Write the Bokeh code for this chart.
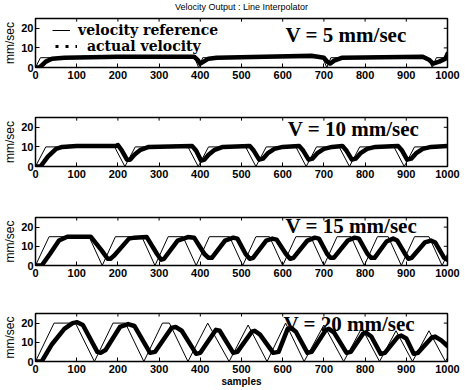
from bokeh.plotting import figure
from bokeh.models import Range1d, FixedTicker, Label, Legend, LegendItem
from bokeh.layouts import column
from bokeh.embed import file_html
from bokeh.resources import INLINE

x_ticks = [0, 100, 200, 300, 400, 500, 600, 700, 800, 900, 1000]
y_ticks = [0, 10, 20]
title_text = "Velocity Output : Line Interpolator"
speed_labels = ["V = 5 mm/sec", "V = 10 mm/sec", "V = 15 mm/sec", "V = 20 mm/sec"]
legend_labels = ["velocity reference", "actual velocity"]

# V = 5 mm/sec
ref5_x = [0, 12, 386, 396, 406, 697, 707, 717, 953, 963, 973, 1000]
ref5_y = [0, 5, 5, 0, 5, 5, 0, 5, 5, 0, 5, 5]
act5_x = [0, 10, 25, 40, 70, 200, 385, 393, 400, 408, 420, 440, 670, 700, 708, 715, 725, 745,
          940, 955, 965, 980, 995, 1000]
act5_y = [0, 0, 3, 4.5, 5, 5.5, 5.5, 4, 2, 3, 4.5, 5, 6, 5, 3, 2, 3.5, 5,
          5.5, 4, 2, 3, 4.5, 7]

# V = 10 mm/sec
ref10_x = [0, 25, 192, 217, 242, 370, 395, 420, 510, 535, 560, 632, 657, 682, 737, 762, 787,
           870, 895, 920, 1000]
ref10_y = [0, 10, 10, 0, 10, 10, 0, 10, 10, 0, 10, 10, 0, 10, 10, 0, 10,
           10, 0, 10, 10]
act10_x = [0, 12, 30, 50, 65, 100, 195, 200, 210, 222, 230, 240, 255, 275,
           380, 390, 402, 410, 420, 435, 455,
           520, 530, 543, 552, 565, 580, 600,
           640, 650, 663, 672, 685, 700, 720,
           745, 755, 768, 777, 790, 805, 825,
           880, 890, 902, 912, 925, 940, 960, 1000]
act10_y = [0, 0, 5, 9, 10, 10.5, 10.5, 11, 8, 3.5, 3.5, 6, 8.5, 10,
           10.5, 8, 3, 3.5, 6, 8.5, 10,
           10.5, 8, 3.5, 4, 7, 9, 10,
           10.5, 8, 3.5, 4, 7, 9, 10,
           10.5, 8, 3.5, 4, 7, 9, 10,
           10.5, 8, 3.5, 4, 7, 9, 10, 10.5]

# V = 15 mm/sec
ref15_x = [0, 33, 130, 162, 194, 258, 290, 322, 358, 390, 422, 471, 503, 535, 568, 600,
           632, 668, 700, 732, 766, 798, 830, 856, 888, 920, 955, 987, 1000]
ref15_y = [0, 15, 15, 0, 15, 15, 0, 15, 15, 0, 15, 15, 0, 15, 15, 0,
           15, 15, 0, 15, 15, 0, 15, 15, 0, 15, 15, 0, 6]
act15_x = [0, 15, 35, 57, 77, 134, 160, 175, 182, 190, 227, 240, 270, 295, 305, 312,
           345, 370, 385, 410, 420, 428, 460, 480, 490, 510, 520, 528,
           560, 575, 585, 608, 618, 626, 660, 678, 688, 708, 716, 724,
           758, 775, 785, 806, 815, 823, 852, 868, 878, 897, 905, 913,
           945, 960, 970, 992, 1000]
act15_y = [0, 0, 6, 13, 15, 15, 8, 3.5, 3.5, 5, 14, 14.5, 14.8, 6, 3, 3.5,
           13, 14.8, 14.5, 6, 4, 4, 13, 14.5, 14, 6, 3.5, 4,
           13, 14, 13.5, 6, 3.5, 4, 13, 14.5, 14, 6, 4, 4,
           13, 14.5, 14, 6, 4, 4, 12.5, 14, 13, 6, 3.5, 4,
           12, 13, 12, 4, 3]

# V = 20 mm/sec
ref20_x = [0, 45, 97, 143, 188, 218, 263, 308, 325, 370, 418, 470, 516, 562, 607, 652,
           700, 748, 792, 835, 875, 915, 955, 995, 1000]
ref20_y = [0, 20, 20, 0, 20, 20, 0, 20, 20, 0, 20, 0, 19, 0, 20, 0,
           19, 0, 17.5, 0, 16, 0, 16, 0, 2]
act20_x = [0, 15, 40, 70, 90, 101, 115, 150, 158, 170, 205, 225, 240, 278, 290,
           330, 340, 355, 390, 400, 438, 447, 480, 490, 525, 532, 545, 577, 590,
           612, 620, 632, 660, 670, 705, 712, 725, 755, 765, 795, 802, 815,
           838, 848, 880, 888, 900, 918, 928, 962, 970, 985, 1000]
act20_y = [0, 0, 9, 17, 20, 20.5, 19, 5, 4.5, 6, 18, 19.5, 18.5, 4.5, 5,
           17.5, 18, 16, 4, 4.5, 16.5, 16, 4.5, 5, 15.5, 16, 14, 4.5, 5,
           17, 17.5, 15.5, 4.5, 5, 16.5, 17, 15, 4.5, 5, 14.5, 15, 13,
           4, 4.5, 13, 13.5, 12, 4, 4.5, 12.5, 13, 11, 8]

panels = [
    (ref5_x, ref5_y, act5_x, act5_y),
    (ref10_x, ref10_y, act10_x, act10_y),
    (ref15_x, ref15_y, act15_x, act15_y),
    (ref20_x, ref20_y, act20_x, act20_y),
]

X_MAX, Y_MAX = 1000, 25
# layout: (top border, frame height, bottom border, label x, label y)
layout_spec = [
    (6, 49, 26, 607, 16.4),
    (24, 49, 26, 612, 19.0),
    (25, 48, 24, 607, 20.6),
    (24, 48, 29, 602, 19.6),
]

TICK_FONT = "Liberation Sans"
SERIF = "Liberation Serif"


def make_title_strip():
    t = figure(width=467, height=12, x_range=Range1d(0, X_MAX), y_range=Range1d(0, 1),
               output_backend="svg", toolbar_location=None,
               min_border_left=35, min_border_right=20, min_border_top=0, min_border_bottom=0)
    t.axis.visible = False
    t.xgrid.visible = False
    t.ygrid.visible = False
    t.outline_line_color = None
    t.background_fill_color = "white"
    t.border_fill_color = "white"
    t.add_layout(Label(x=X_MAX / 2, y=0.5, text=title_text, text_font=TICK_FONT,
                       text_font_size="9px", text_color="black", text_align="center",
                       text_baseline="middle"))
    return t


def make_panel(i):
    ref_x, ref_y, act_x, act_y = panels[i]
    top, fh, bottom, lx, ly = layout_spec[i]
    p = figure(width=467, height=top + fh + bottom,
               x_range=Range1d(0, X_MAX), y_range=Range1d(0, Y_MAX),
               output_backend="svg", toolbar_location=None,
               min_border_left=35, min_border_right=20,
               min_border_top=top, min_border_bottom=bottom)
    p.xgrid.visible = False
    p.ygrid.visible = False
    p.outline_line_color = "black"
    p.outline_line_width = 1.5
    p.background_fill_color = "white"
    p.border_fill_color = "white"

    for ax in p.xaxis:
        ax.ticker = FixedTicker(ticks=x_ticks)
    for ax in p.yaxis:
        ax.ticker = FixedTicker(ticks=y_ticks)
    for ax in list(p.xaxis) + list(p.yaxis):
        ax.major_tick_in = 4
        ax.major_tick_out = 0
        ax.minor_tick_line_color = None
        ax.axis_line_color = None
        ax.major_tick_line_color = "black"
        ax.major_label_text_font = TICK_FONT
        ax.major_label_text_font_style = "bold"
        ax.major_label_text_font_size = "11px"
        ax.major_label_text_color = "black"
        ax.major_label_standoff = 3
    p.yaxis.major_label_standoff = 2
    p.yaxis.axis_label = "mm/sec"
    p.yaxis.axis_label_text_font = TICK_FONT
    p.yaxis.axis_label_text_font_style = "normal"
    p.yaxis.axis_label_text_font_size = "12px"
    p.yaxis.axis_label_standoff = 1
    p.yaxis.axis_label_text_color = "black"

    if i == 3:
        p.xaxis.axis_label = "samples"
        p.xaxis.axis_label_text_font = TICK_FONT
        p.xaxis.axis_label_text_font_style = "bold"
        p.xaxis.axis_label_text_font_size = "10px"
        p.xaxis.axis_label_standoff = 0
        p.xaxis.axis_label_text_color = "black"

    # inward tick marks on the top and right edges of the box
    p.segment(x0=x_ticks, y0=[Y_MAX] * len(x_ticks), x1=x_ticks, y1=[Y_MAX - 1.6] * len(x_ticks),
              line_color="black", line_width=1)
    p.segment(x0=[X_MAX] * len(y_ticks), y0=y_ticks, x1=[X_MAX - 9] * len(y_ticks), y1=y_ticks,
              line_color="black", line_width=1)

    ref_r = p.line(ref_x, ref_y, line_color="black", line_width=1)
    # dotted trace of the measured samples (legend glyph), covered by the thick band
    dots_r = p.line(act_x, act_y, line_color="black", line_width=3, line_dash="3 7")
    p.line(act_x, act_y, line_color="black", line_width=4.5, line_join="round", line_cap="round")

    p.add_layout(Label(x=lx, y=ly, text=speed_labels[i], text_font=SERIF,
                       text_font_style="bold", text_font_size="21px", text_color="black",
                       text_baseline="alphabetic"))

    if i == 0:
        common = dict(orientation="vertical", background_fill_alpha=0, border_line_alpha=0,
                      label_text_font="DejaVu Serif", label_text_font_style="bold",
                      label_text_font_size="14px", label_text_color="black",
                      glyph_height=14, spacing=0, padding=0, margin=0)
        leg1 = Legend(items=[LegendItem(label=legend_labels[0], renderers=[ref_r])],
                      location=(17, 29), glyph_width=18, label_standoff=8, **common)
        leg2 = Legend(items=[LegendItem(label=legend_labels[1], renderers=[dots_r])],
                      location=(20, 13), glyph_width=22, label_standoff=10, **common)
        p.add_layout(leg1, "center")
        p.add_layout(leg2, "center")
    return p


figs = [make_title_strip()] + [make_panel(i) for i in range(4)]
layout = column(*figs, spacing=0)
open("out.html", "w").write(file_html(layout, INLINE))
